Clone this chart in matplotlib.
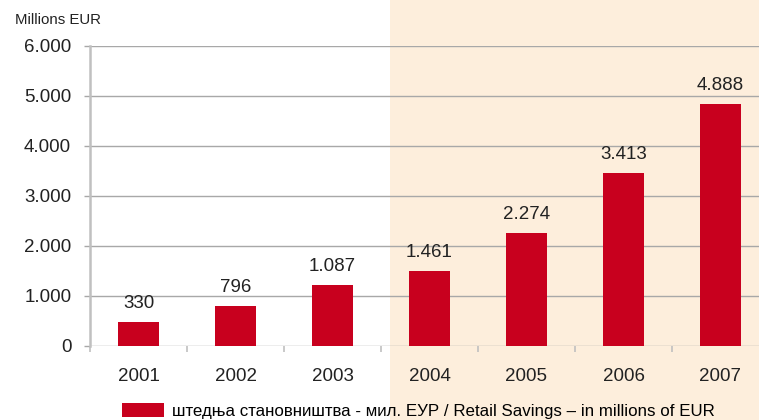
import matplotlib.pyplot as plt
from matplotlib.patches import Rectangle, Patch

# data (bar heights as drawn, labels as printed)
years = ["2001", "2002", "2003", "2004", "2005", "2006", "2007"]
bar_heights = [480, 800, 1220, 1500, 2265, 3460, 4840]
value_labels = ["330", "796", "1.087", "1.461", "2.274", "3.413", "4.888"]
y_ticks = [0, 1000, 2000, 3000, 4000, 5000, 6000]
y_tick_labels = ["0", "1.000", "2.000", "3.000", "4.000", "5.000", "6.000"]
legend_label = "штедња становништва - мил. ЕУР / Retail Savings \u2013 in millions of EUR"

RED = "#c8001e"
SHADE = "#fdeedc"
GRID = "#a8a8a8"

plt.rcParams["font.family"] = ["Liberation Sans", "DejaVu Sans"]

W, H = 759, 420
fig = plt.figure(figsize=(W / 100, H / 100), dpi=100)

# shaded band behind the later years, full figure height
fig.patches.append(
    Rectangle((390 / W, 0), 1 - 390 / W, 1, transform=fig.transFigure,
              facecolor=SHADE, edgecolor="none", zorder=-1)
)

ax = fig.add_axes([90 / W, (H - 346) / H, 679 / W, 300 / H])
ax.set_facecolor("none")
ax.set_zorder(1)

x = list(range(len(years)))
ax.bar(x, bar_heights, width=0.43, color=RED, zorder=3)
for xi, h, lab in zip(x, bar_heights, value_labels):
    ax.annotate(lab, (xi, h), xytext=(0, 7), textcoords="offset points",
                ha="center", va="bottom", fontsize=13.5, color="#222222")

ax.set_xlim(-0.5, len(years) - 0.5)
ax.set_ylim(0, 6000)
ax.set_yticks(y_ticks)
ax.set_yticklabels(y_tick_labels, fontsize=13.5, color="#222222")
ax.set_xticks(x)
ax.set_xticklabels(years, fontsize=13.5, color="#222222")
ax.set_xticks([i - 0.5 for i in range(len(years))], minor=True)

ax.tick_params(axis="x", which="major", length=0, pad=16)
ax.tick_params(axis="x", which="minor", length=4.5, color="#c0c0c0", width=1.2)
ax.tick_params(axis="y", length=4.5, color=GRID, width=1, pad=9)

ax.yaxis.grid(True, color=GRID, lw=1, zorder=1)
ax.set_axisbelow(True)
for side in ["top", "right", "bottom"]:
    ax.spines[side].set_visible(False)
ax.spines["left"].set_color("#c0c0c0")
ax.spines["left"].set_linewidth(1.8)

fig.text(15 / W, 1 - 20 / H, "Millions EUR", fontsize=10.8, va="center",
         ha="left", color="#222222")

fig.legend(handles=[Patch(facecolor=RED, edgecolor="none")], labels=[legend_label],
           loc="center", bbox_to_anchor=(418 / W, 1 - 411 / H), frameon=False,
           fontsize=12.2, handlelength=2.5, handleheight=0.9, handletextpad=0.45,
           borderpad=0, borderaxespad=0)

fig.savefig("out.png", dpi=100)
